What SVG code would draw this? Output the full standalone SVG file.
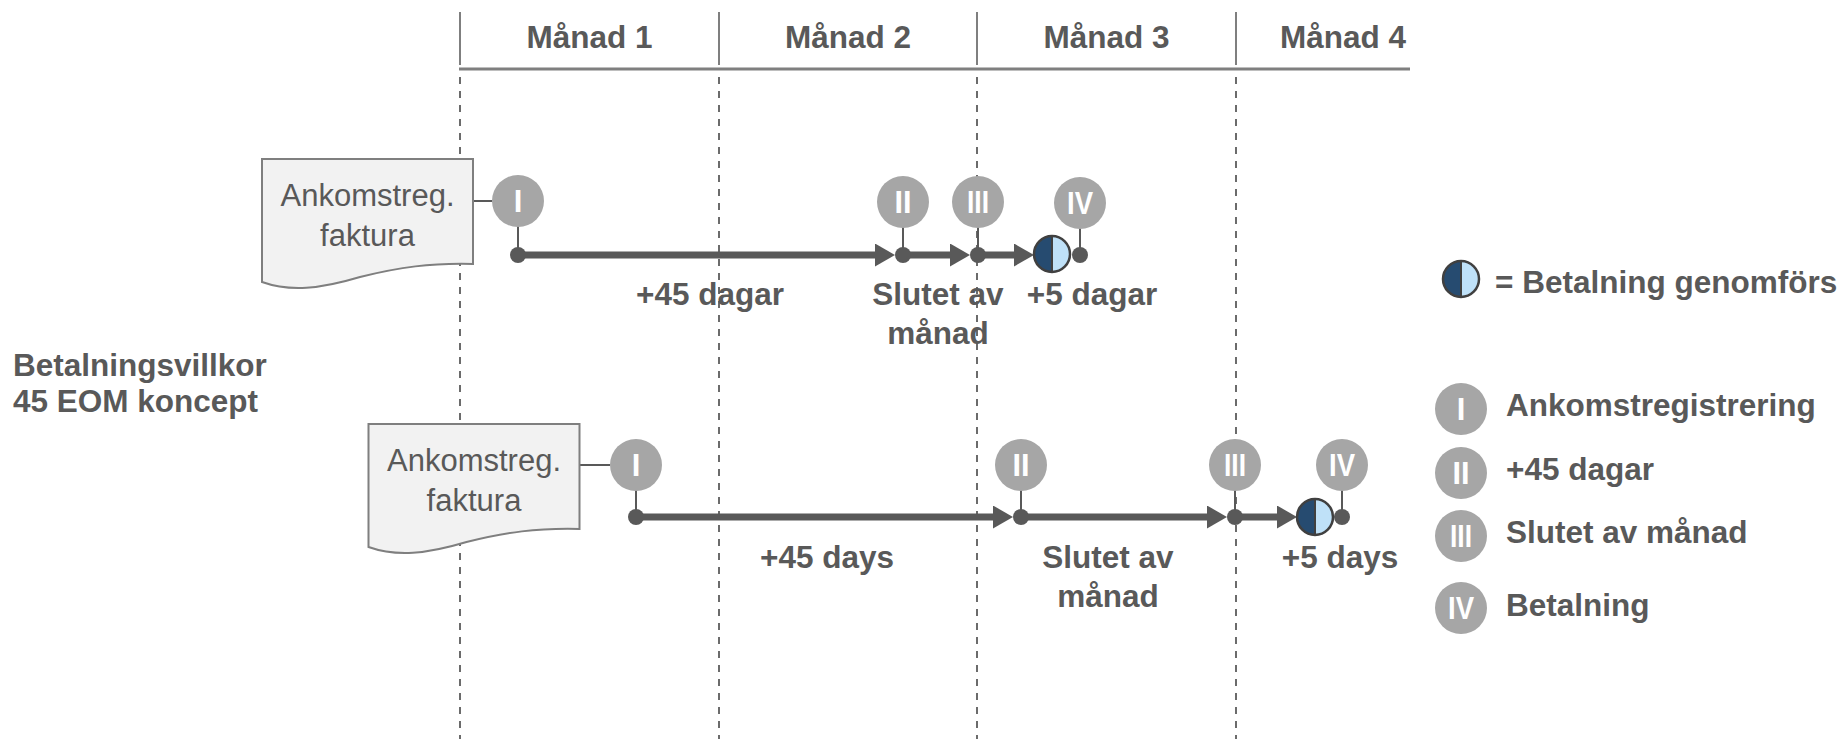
<svg xmlns="http://www.w3.org/2000/svg" width="1847" height="739" viewBox="0 0 1847 739">
<defs>
<style>
.hdr{font-family:"Liberation Sans",Arial,sans-serif;font-weight:bold;font-size:31.5px;fill:#595959;text-anchor:middle}
.lbl{font-family:"Liberation Sans",Arial,sans-serif;font-weight:bold;font-size:31.5px;fill:#595959}
.mid{text-anchor:middle}
.doc{fill:#f2f2f2;stroke:#7f7f7f;stroke-width:2}
.doctxt{font-family:"Liberation Sans",Arial,sans-serif;font-size:31px;fill:#595959;text-anchor:middle}
.num{fill:#a6a6a6}
.numtxt{font-family:"Liberation Sans",Arial,sans-serif;font-weight:bold;font-size:31px;fill:#ffffff;text-anchor:middle}
.thin{stroke:#595959;stroke-width:2;fill:none}
.thick{stroke:#595959;stroke-width:7;fill:none}
.dot{fill:#595959}
.dash{stroke:#6b6b6b;stroke-width:2;stroke-dasharray:7 7;fill:none}
.grid{stroke:#7f7f7f;stroke-width:2;fill:none}
</style>
<marker id="arr" viewBox="0 0 20 23" markerUnits="userSpaceOnUse" markerWidth="20" markerHeight="23" refX="2" refY="11.5" orient="auto">
<path d="M0,0 L20,11.5 L0,23 Z" fill="#595959"/>
</marker>
<g id="paysym">
<path d="M0,-18 A18,18 0 0 0 0,18 Z" fill="#264b70"/>
<path d="M0,-18 A18,18 0 0 1 0,18 Z" fill="#bfe1f8"/>
<line x1="0" y1="-18" x2="0" y2="18" stroke="#404040" stroke-width="2"/>
<circle r="18" fill="none" stroke="#404040" stroke-width="2.5"/>
</g>
</defs>
<rect width="1847" height="739" fill="#ffffff"/>

<g id="grid">
<line class="grid" x1="460" y1="12" x2="460" y2="65"/>
<line class="grid" x1="719" y1="12" x2="719" y2="65"/>
<line class="grid" x1="977" y1="12" x2="977" y2="65"/>
<line class="grid" x1="1236" y1="12" x2="1236" y2="65"/>
<line x1="459" y1="69" x2="1410" y2="69" stroke="#7f7f7f" stroke-width="3"/>
<line class="dash" x1="460" y1="77" x2="460" y2="739"/>
<line class="dash" x1="719" y1="77" x2="719" y2="739"/>
<line class="dash" x1="977" y1="77" x2="977" y2="739"/>
<line class="dash" x1="1236" y1="77" x2="1236" y2="739"/>
<text class="hdr" x="589.5" y="48">Månad 1</text>
<text class="hdr" x="848" y="48">Månad 2</text>
<text class="hdr" x="1106.5" y="48">Månad 3</text>
<text class="hdr" x="1343" y="48">Månad 4</text>
</g>

<g id="title">
<text class="lbl" x="13" y="376">Betalningsvillkor</text>
<text class="lbl" x="13" y="412">45 EOM koncept</text>
</g>

<g id="connectors">
<line class="thin" x1="473" y1="201" x2="492" y2="201"/>
<line class="thin" x1="518" y1="201" x2="518" y2="255"/>
<line class="thin" x1="903" y1="202" x2="903" y2="255"/>
<line class="thin" x1="978" y1="202" x2="978" y2="255"/>
<line class="thin" x1="1080" y1="203" x2="1080" y2="255"/>
<line class="thick" x1="518" y1="255" x2="877" y2="255" marker-end="url(#arr)"/>
<line class="thick" x1="903" y1="255" x2="952" y2="255" marker-end="url(#arr)"/>
<line class="thick" x1="978" y1="255" x2="1016" y2="255" marker-end="url(#arr)"/>

<line class="thin" x1="579" y1="465" x2="610" y2="465"/>
<line class="thin" x1="636" y1="465" x2="636" y2="517"/>
<line class="thin" x1="1021" y1="465" x2="1021" y2="517"/>
<line class="thin" x1="1235" y1="465" x2="1235" y2="517"/>
<line class="thin" x1="1342" y1="465" x2="1342" y2="517"/>
<line class="thick" x1="636" y1="517" x2="995" y2="517" marker-end="url(#arr)"/>
<line class="thick" x1="1021" y1="517" x2="1209" y2="517" marker-end="url(#arr)"/>
<line class="thick" x1="1235" y1="517" x2="1279" y2="517" marker-end="url(#arr)"/>
</g>

<g id="doc1">
<path class="doc" d="M262,159 H473 V264 C430,263 400,267 360,277 C320,289 290,292 262,282 Z"/>
<text class="doctxt" x="367.5" y="206">Ankomstreg.</text>
<text class="doctxt" x="367.5" y="246">faktura</text>
</g>
<g id="doc2">
<path class="doc" d="M368.5,424 H579.5 V529 C536.5,528 506.5,532 466.5,542 C426.5,554 396.5,557 368.5,547 Z"/>
<text class="doctxt" x="474" y="471">Ankomstreg.</text>
<text class="doctxt" x="474" y="511">faktura</text>
</g>

<g id="row1-I"><circle class="num" cx="518" cy="201" r="26"/><text class="numtxt" x="518" y="212">I</text><circle class="dot" cx="518" cy="255" r="8"/></g>
<g id="row1-II"><circle class="num" cx="903" cy="202" r="26"/><text class="numtxt" x="903" y="213" textLength="17" lengthAdjust="spacingAndGlyphs">II</text><circle class="dot" cx="903" cy="255" r="8"/></g>
<g id="row1-III"><circle class="num" cx="978" cy="202" r="26"/><text class="numtxt" x="978" y="213" textLength="22" lengthAdjust="spacingAndGlyphs">III</text><circle class="dot" cx="978" cy="255" r="8"/></g>
<g id="row1-IV"><circle class="num" cx="1080" cy="203" r="26"/><text class="numtxt" x="1080" y="214" textLength="26" lengthAdjust="spacingAndGlyphs">IV</text><circle class="dot" cx="1080" cy="255" r="8"/></g>
<g id="row1-pay"><use href="#paysym" x="1052" y="254"/></g>

<g id="row2-I"><circle class="num" cx="636" cy="465" r="26"/><text class="numtxt" x="636" y="476">I</text><circle class="dot" cx="636" cy="517" r="8"/></g>
<g id="row2-II"><circle class="num" cx="1021" cy="465" r="26"/><text class="numtxt" x="1021" y="476" textLength="17" lengthAdjust="spacingAndGlyphs">II</text><circle class="dot" cx="1021" cy="517" r="8"/></g>
<g id="row2-III"><circle class="num" cx="1235" cy="465" r="26"/><text class="numtxt" x="1235" y="476" textLength="22" lengthAdjust="spacingAndGlyphs">III</text><circle class="dot" cx="1235" cy="517" r="8"/></g>
<g id="row2-IV"><circle class="num" cx="1342" cy="465" r="26"/><text class="numtxt" x="1342" y="476" textLength="26" lengthAdjust="spacingAndGlyphs">IV</text><circle class="dot" cx="1342" cy="517" r="8"/></g>
<g id="row2-pay"><use href="#paysym" x="1315" y="517"/></g>

<g id="labels">
<text class="lbl mid" x="710" y="305">+45 dagar</text>
<text class="lbl mid" x="938" y="305">Slutet av</text>
<text class="lbl mid" x="938" y="344">månad</text>
<text class="lbl mid" x="1092" y="305">+5 dagar</text>
<text class="lbl mid" x="827" y="568">+45 days</text>
<text class="lbl mid" x="1108" y="568">Slutet av</text>
<text class="lbl mid" x="1108" y="607">månad</text>
<text class="lbl mid" x="1340" y="568">+5 days</text>
</g>

<g id="legend">
<use href="#paysym" x="1461" y="279"/>
<text class="lbl" x="1495" y="293">= Betalning genomförs</text>
<circle class="num" cx="1461" cy="409" r="26"/><text class="numtxt" x="1461" y="420">I</text>
<text class="lbl" x="1506" y="416">Ankomstregistrering</text>
<circle class="num" cx="1461" cy="473" r="26"/><text class="numtxt" x="1461" y="484" textLength="17" lengthAdjust="spacingAndGlyphs">II</text>
<text class="lbl" x="1506" y="480">+45 dagar</text>
<circle class="num" cx="1461" cy="536" r="26"/><text class="numtxt" x="1461" y="547" textLength="22" lengthAdjust="spacingAndGlyphs">III</text>
<text class="lbl" x="1506" y="543">Slutet av månad</text>
<circle class="num" cx="1461" cy="608" r="26"/><text class="numtxt" x="1461" y="619" textLength="26" lengthAdjust="spacingAndGlyphs">IV</text>
<text class="lbl" x="1506" y="616">Betalning</text>
</g>
</svg>
